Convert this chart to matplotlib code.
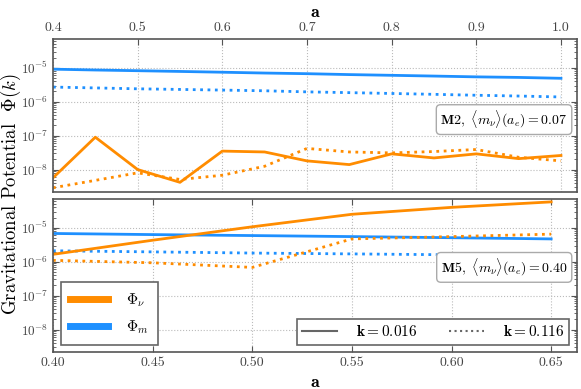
import matplotlib
matplotlib.use("Agg")
import matplotlib.pyplot as plt
from matplotlib.lines import Line2D

plt.rcParams['font.family'] = 'serif'
plt.rcParams['font.serif'] = ['cmr10', 'DejaVu Serif']
plt.rcParams['mathtext.fontset'] = 'cm'
plt.rcParams['axes.formatter.use_mathtext'] = True

# data
a_top = [0.40, 0.45, 0.50, 0.55, 0.60, 0.65, 0.70, 0.75, 0.80, 0.85, 0.90, 0.95, 1.00]
top_nu_k1 = [5.7e-9, 9e-8, 1e-8, 4.2e-9, 3.5e-8, 3.3e-8, 1.8e-8, 1.4e-8, 2.9e-8, 2.2e-8, 2.9e-8, 2.1e-8, 2.6e-8]
top_nu_k2 = [2.9e-9, 4.8e-9, 8e-9, 5.1e-9, 6.8e-9, 1.25e-8, 4.2e-8, 3.3e-8, 3.1e-8, 3.4e-8, 3.9e-8, 2.3e-8, 1.8e-8]
top_m_k1 = [9.1e-6, 8.6e-6, 8.2e-6, 7.8e-6, 7.4e-6, 7.0e-6, 6.7e-6, 6.3e-6, 6.0e-6, 5.7e-6, 5.4e-6, 5.2e-6, 4.9e-6]
top_m_k2 = [2.7e-6, 2.55e-6, 2.4e-6, 2.3e-6, 2.2e-6, 2.1e-6, 1.95e-6, 1.85e-6, 1.75e-6, 1.65e-6, 1.55e-6, 1.47e-6, 1.38e-6]

a_bot = [0.40, 0.45, 0.50, 0.55, 0.60, 0.65]
bot_nu_k1 = [1.65e-6, 4.3e-6, 1.07e-5, 2.5e-5, 4.0e-5, 5.8e-5]
bot_nu_k2 = [1.1e-6, 9.3e-7, 6.8e-7, 4.7e-6, 5.5e-6, 6.5e-6]
bot_m_k1 = [6.8e-6, 6.3e-6, 5.9e-6, 5.5e-6, 5.1e-6, 4.7e-6]
bot_m_k2 = [2.1e-6, 1.95e-6, 1.8e-6, 1.7e-6, 1.6e-6, 1.5e-6]

top_ticks = [0.4, 0.5, 0.6, 0.7, 0.8, 0.9, 1.0]
top_ticklabels = ['0.4', '0.5', '0.6', '0.7', '0.8', '0.9', '1.0']
bot_ticks = [0.40, 0.45, 0.50, 0.55, 0.60, 0.65]
bot_ticklabels = ['0.40', '0.45', '0.50', '0.55', '0.60', '0.65']
yticks = [1e-8, 1e-7, 1e-6, 1e-5]

orange = '#ff8c00'
blue = '#1e90ff'
spine = '#555555'

fig = plt.figure(figsize=(5.81, 3.89), dpi=100)
ax1 = fig.add_axes([0.0912, 0.5057, 0.902, 0.3933])
ax2 = fig.add_axes([0.0912, 0.0943, 0.902, 0.3934])

ylim = (10 ** -8.67, 10 ** -4.16)

for ax in (ax1, ax2):
    ax.set_yscale('log')
    ax.set_ylim(*ylim)
    ax.set_yticks(yticks)
    ax.grid(True, which='major', color='#bbbbbb', ls=':', lw=0.8)
    for s in ax.spines.values():
        s.set_color(spine)
        s.set_linewidth(1.2)
    ax.tick_params(which='both', direction='in', colors=spine, labelcolor='#444444', labelsize=10)
    ax.tick_params(axis='y', labelsize=9.5)
    ax.tick_params(which='major', length=4)
    ax.tick_params(which='minor', length=2)

# top panel
ax1.plot(a_top, top_m_k1, color=blue, lw=2)
ax1.plot(a_top, top_m_k2, color=blue, lw=2, ls=':')
ax1.plot(a_top, top_nu_k1, color=orange, lw=2)
ax1.plot(a_top, top_nu_k2, color=orange, lw=2, ls=':')
ax1.set_xlim(0.4, 1.019)
ax1.xaxis.tick_top()
ax1.xaxis.set_label_position('top')
ax1.set_xticks(top_ticks)
ax1.set_xticklabels(top_ticklabels)
ax1.tick_params(axis='x', which='both', top=True, bottom=False)
ax1.tick_params(axis='y', which='both', left=True, right=True)
ax1.set_xlabel(r'$\mathbf{a}$', fontsize=13, labelpad=4)
ax1.text(0.982, 0.475, r'$\mathbf{M2,}\ \langle m_\nu\rangle(a_e) = 0.07$', transform=ax1.transAxes,
         ha='right', va='center', fontsize=10,
         bbox=dict(boxstyle='round,pad=0.3', fc='white', ec='#aaaaaa', lw=1))

# bottom panel
ax2.plot(a_bot, bot_m_k1, color=blue, lw=2)
ax2.plot(a_bot, bot_m_k2, color=blue, lw=2, ls=':')
ax2.plot(a_bot, bot_nu_k1, color=orange, lw=2)
ax2.plot(a_bot, bot_nu_k2, color=orange, lw=2, ls=':')
ax2.set_xlim(0.4, 0.663)
ax2.set_xticks(bot_ticks)
ax2.set_xticklabels(bot_ticklabels)
ax2.tick_params(axis='x', which='both', top=True, bottom=True)
ax2.tick_params(axis='y', which='both', left=True, right=True)
ax2.set_xlabel(r'$\mathbf{a}$', fontsize=13, labelpad=4)
ax2.text(0.982, 0.555, r'$\mathbf{M5,}\ \langle m_\nu\rangle(a_e) = 0.40$', transform=ax2.transAxes,
         ha='right', va='center', fontsize=10,
         bbox=dict(boxstyle='round,pad=0.3', fc='white', ec='#aaaaaa', lw=1))

h1 = [Line2D([], [], color=orange, lw=5), Line2D([], [], color=blue, lw=5)]
leg1 = ax2.legend(h1, [r'$\Phi_\nu$', r'$\Phi_m$'], loc='lower left', fontsize=11,
                  fancybox=False, edgecolor='#666666', framealpha=1,
                  handlelength=2.5, labelspacing=0.6, borderpad=0.6, handletextpad=1.2)
leg1.get_frame().set_linewidth(1.2)
ax2.add_artist(leg1)

h2 = [Line2D([], [], color='#666666', lw=1.5), Line2D([], [], color='#666666', lw=1.5, ls=':')]
leg2 = ax2.legend(h2, [r'$\mathbf{k{=}0.016}$', r'$\mathbf{k{=}0.116}$'], loc='lower right', ncol=2,
                  fontsize=11, fancybox=False, edgecolor='#666666', framealpha=1,
                  handlelength=2.3, handletextpad=1.2, columnspacing=2.1, borderpad=0.35)
leg2.get_frame().set_linewidth(1.2)

fig.text(0.019, 0.5, r'Gravitational Potential  $\Phi(k)$', rotation=90, ha='center', va='center',
         fontsize=13.5)

fig.savefig('out.png', dpi=100)
